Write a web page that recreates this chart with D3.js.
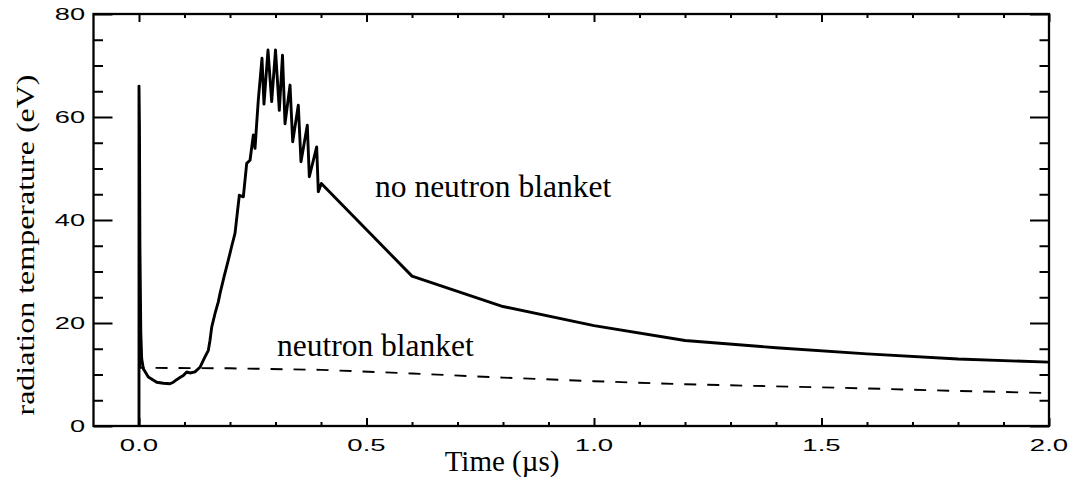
<!DOCTYPE html>
<html>
<head>
<meta charset="utf-8">
<script src="https://cdn.jsdelivr.net/npm/d3@7"></script>
<style>
  html, body { margin: 0; padding: 0; background: #fff; }
  svg { display: block; }
</style>
</head>
<body>
<svg id="chart" width="1074" height="483"></svg>
<script>
// ---------------- data ----------------
const noBlanketTime = [0, 0, 0.001, 0.002, 0.004, 0.0059, 0.0095, 0.0205, 0.0389, 0.0535, 0.068, 0.0755, 0.0828, 0.09, 0.0974, 0.1048, 0.112, 0.123, 0.134, 0.145, 0.1524, 0.156, 0.1598, 0.167, 0.1743, 0.178, 0.187, 0.1963, 0.204, 0.211, 0.2205, 0.2293, 0.2367, 0.244, 0.2513, 0.255, 0.2587, 0.2622, 0.2703, 0.2747, 0.2835, 0.2916, 0.3, 0.3084, 0.3154, 0.3209, 0.3319, 0.3378, 0.3501, 0.356, 0.3699, 0.3743, 0.3905, 0.3941, 0.4007, 0.6, 0.8, 1.0, 1.2, 1.4, 1.6, 1.8, 2.0];
const noBlanketTemp = [0, 66, 58, 35, 18, 13.1, 11.1, 9.5, 8.5, 8.3, 8.2, 8.5, 9.0, 9.4, 9.8, 10.5, 10.3, 10.5, 11.4, 13.4, 14.7, 16.6, 19.2, 21.8, 24.1, 25.7, 29.0, 32.2, 35.0, 37.4, 44.8, 44.5, 51.0, 51.6, 56.5, 53.9, 58.8, 63.3, 71.4, 62.5, 73.0, 63.0, 73.0, 61.3, 72.0, 58.7, 66.2, 55.2, 62.3, 51.3, 58.4, 48.4, 54.2, 45.5, 47.1, 29.1, 23.2, 19.5, 16.6, 15.2, 14.0, 13.0, 12.4];

const blanketTime = [0, 0, 0.003, 0.2, 0.4, 0.6, 0.8, 1.0, 1.2, 1.4, 1.6, 1.8, 2.0];
const blanketTemp = [0, 60, 11.3, 11.2, 10.9, 10.2, 9.4, 8.7, 8.1, 7.7, 7.3, 6.8, 6.4];

const xMajorTicks = [0, 0.5, 1.0, 1.5, 2.0];
const xTickLabels = ["0.0", "0.5", "1.0", "1.5", "2.0"];
const yMajorTicks = [0, 20, 40, 60, 80];
const yTickLabels = ["0", "20", "40", "60", "80"];
const xMinorTicks = [0.1, 0.2, 0.3, 0.4, 0.6, 0.7, 0.8, 0.9, 1.1, 1.2, 1.3, 1.4, 1.6, 1.7, 1.8, 1.9];
const yMinorTicks = [5, 10, 15, 25, 30, 35, 45, 50, 55, 65, 70, 75];

const xTitle = "Time (\u00b5s)";
const yTitle = "radiation temperature (eV)";
const labelNoBlanket = "no neutron blanket";
const labelBlanket = "neutron blanket";

// ---------------- layout ----------------
const L = 93.5, R = 1049, T = 14, B = 426;
const svg = d3.select("#chart");
const x = d3.scaleLinear().domain([-0.1, 2.0]).range([L, R]);
const y = d3.scaleLinear().domain([0, 80]).range([B, T]);

const plot = svg.append("g");
plot.append("clipPath").attr("id", "clip")
  .append("rect").attr("x", L).attr("y", T - 2).attr("width", R - L).attr("height", B - T + 2);

const line = d3.line().x(d => x(d[0])).y(d => y(d[1]));

plot.append("path")
  .datum(blanketTime.map((t, i) => [t, blanketTemp[i]]))
  .attr("d", line)
  .attr("fill", "none")
  .attr("stroke", "#000")
  .attr("stroke-width", 1.9)
  .attr("stroke-dasharray", "12,11")
  .attr("clip-path", "url(#clip)");

plot.append("path")
  .datum(noBlanketTime.map((t, i) => [t, noBlanketTemp[i]]))
  .attr("d", line)
  .attr("fill", "none")
  .attr("stroke", "#000")
  .attr("stroke-width", 2.9)
  .attr("stroke-linejoin", "round")
  .attr("stroke-linecap", "round")
  .attr("clip-path", "url(#clip)");

// frame
svg.append("rect")
  .attr("x", L).attr("y", T).attr("width", R - L).attr("height", B - T)
  .attr("fill", "none").attr("stroke", "#000").attr("stroke-width", 2.3);

// ticks via d3 axes
const xMajLen = 8, xMinLen = 4, yMajLen = 19, yMinLen = 9.5;
function styleAxis(g) {
  g.select(".domain").remove();
  g.selectAll("line").attr("stroke", "#000").attr("stroke-width", 2);
  g.selectAll("text").remove();
}
svg.append("g").attr("transform", `translate(0,${B})`)
  .call(d3.axisTop(x).tickValues(xMajorTicks).tickSizeInner(xMajLen).tickSizeOuter(0)).call(styleAxis);
svg.append("g").attr("transform", `translate(0,${B})`)
  .call(d3.axisTop(x).tickValues(xMinorTicks).tickSizeInner(xMinLen).tickSizeOuter(0)).call(styleAxis);
svg.append("g").attr("transform", `translate(0,${T})`)
  .call(d3.axisBottom(x).tickValues(xMajorTicks).tickSizeInner(xMajLen).tickSizeOuter(0)).call(styleAxis);
svg.append("g").attr("transform", `translate(0,${T})`)
  .call(d3.axisBottom(x).tickValues(xMinorTicks).tickSizeInner(xMinLen).tickSizeOuter(0)).call(styleAxis);
svg.append("g").attr("transform", `translate(${L},0)`)
  .call(d3.axisRight(y).tickValues(yMajorTicks).tickSizeInner(yMajLen).tickSizeOuter(0)).call(styleAxis);
svg.append("g").attr("transform", `translate(${L},0)`)
  .call(d3.axisRight(y).tickValues(yMinorTicks).tickSizeInner(yMinLen).tickSizeOuter(0)).call(styleAxis);
svg.append("g").attr("transform", `translate(${R},0)`)
  .call(d3.axisLeft(y).tickValues(yMajorTicks).tickSizeInner(yMajLen).tickSizeOuter(0)).call(styleAxis);
svg.append("g").attr("transform", `translate(${R},0)`)
  .call(d3.axisLeft(y).tickValues(yMinorTicks).tickSizeInner(yMinLen).tickSizeOuter(0)).call(styleAxis);

// tick labels (wide sans-serif, as in the original)
const tickFont = "'Liberation Sans', Arial, Helvetica, sans-serif";
svg.append("g").selectAll("text").data(xMajorTicks).join("text")
  .attr("transform", d => `translate(${x(d)},451) scale(1.62,1)`)
  .attr("text-anchor", "middle")
  .attr("font-family", tickFont).attr("font-size", 17)
  .text((d, i) => xTickLabels[i]);
svg.append("g").selectAll("text").data(yMajorTicks).join("text")
  .attr("transform", d => `translate(85,${y(d) + 6}) scale(1.6,1)`)
  .attr("text-anchor", "end")
  .attr("font-family", tickFont).attr("font-size", 17)
  .text((d, i) => yTickLabels[i]);

// titles
const serif = "'Liberation Serif', 'Times New Roman', Times, serif";
svg.append("text")
  .attr("x", 502).attr("y", 471)
  .attr("text-anchor", "middle")
  .attr("font-family", serif).attr("font-size", 29)
  .text(xTitle);
svg.append("text")
  .attr("transform", "translate(34,245) rotate(-90) scale(1,0.82)")
  .attr("text-anchor", "middle")
  .attr("font-family", serif).attr("font-size", 32)
  .text(yTitle);

// curve labels
svg.append("text")
  .attr("x", 375).attr("y", 197)
  .attr("font-family", serif).attr("font-size", 31.5)
  .text(labelNoBlanket);
svg.append("text")
  .attr("x", 277).attr("y", 356)
  .attr("font-family", serif).attr("font-size", 31.5)
  .text(labelBlanket);
</script>
</body>
</html>
